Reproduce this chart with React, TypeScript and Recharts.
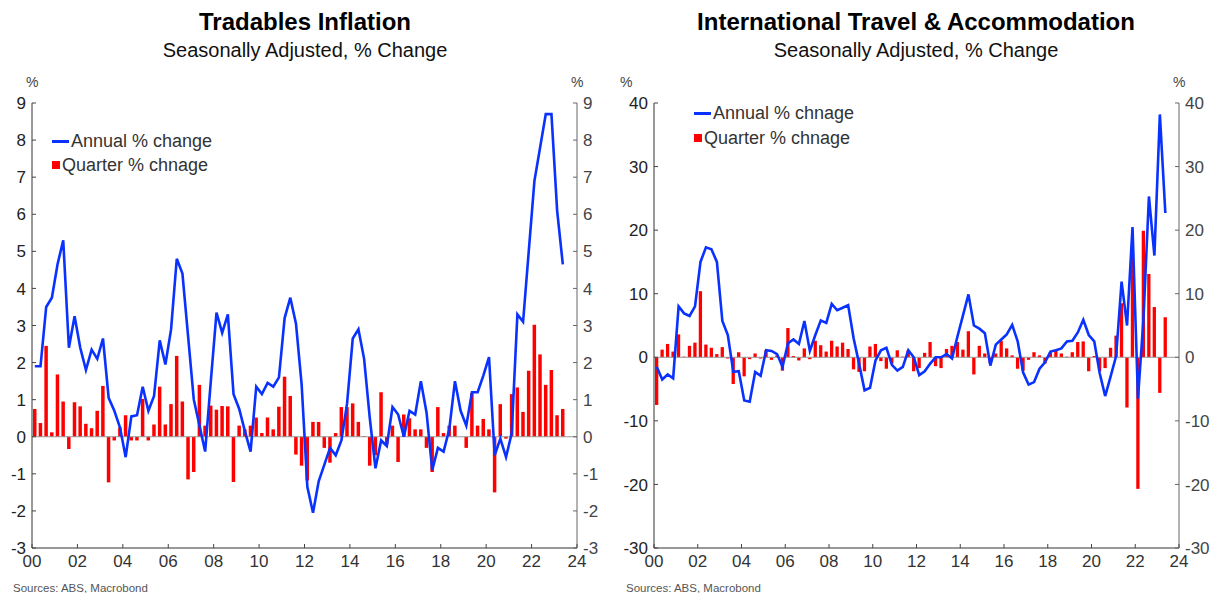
import React from "react";
import { ComposedChart, XAxis, YAxis, Bar, Line, ReferenceLine } from "recharts";

// quarterly, 2000Q1 .. 2023Q2
const quarters: number[] = [];
for (let y = 0; y < 24; y++) {
  for (let q = 0; q < 4; q++) {
    if (y === 23 && q > 1) break;
    quarters.push(y + q * 0.25 + 0.125);
  }
}

const yearTicks = [0, 2, 4, 6, 8, 10, 12, 14, 16, 18, 20, 22, 24];
const tradTicks = [-3, -2, -1, 0, 1, 2, 3, 4, 5, 6, 7, 8, 9];
const travelTicks = [-30, -20, -10, 0, 10, 20, 30, 40];

const tradAnnual = [
  1.9, 1.9, 3.5, 3.75, 4.65, 5.3, 2.4, 3.25, 2.4, 1.8,
  2.35, 2.1, 2.65, 1.05, 0.7, 0.25, -0.55, 0.55, 0.58, 1.35,
  0.7, 1.1, 2.6, 1.95, 2.9, 4.8, 4.4, 2.7, 1.0, 0.3,
  -0.4, 1.5, 3.35, 2.8, 3.3, 1.15, 0.75, 0.15, -0.4, 1.35,
  1.15, 1.45, 1.35, 1.6, 3.2, 3.75, 3.05, 1.4, -1.35, -2.05,
  -1.2, -0.75, -0.3, -0.5, -0.1, 0.9, 2.65, 2.9, 2.1, 0.5,
  -0.85, -0.1, -0.25, 0.8, 0.6, 0.0, 0.7, 0.6, 1.5, 0.65,
  -0.9, -0.3, -0.4, 0.2, 1.5, 0.7, 0.3, 1.2, 1.2, 1.65,
  2.15, -0.5, -0.05, -0.55, 0.1, 3.3, 3.1, 5.0, 6.9, 7.8,
  8.7, 8.7, 6.1, 4.65,
];

const tradQuarter = [
  0.75, 0.37, 2.45, 0.12, 1.68, 0.95, -0.33, 0.93, 0.82, 0.35,
  0.23, 0.7, 1.37, -1.23, -0.1, 0.25, 0.58, -0.1, -0.1, 1.02,
  -0.1, 0.33, 1.35, 0.33, 0.88, 2.18, 0.95, -1.15, -0.95, 1.4,
  0.3, 0.84, 0.73, 0.83, 0.82, -1.22, 0.3, 0.2, 0.3, 0.52,
  0.1, 0.52, 0.2, 0.81, 1.62, 1.1, -0.48, -0.78, -1.18, 0.4,
  0.4, -0.3, -0.7, 0.1, 0.8, 0.8, 0.9, 0.4, 0.02, -0.78,
  -0.5, 1.2, -0.2, 0.3, -0.68, 0.6, 0.5, 0.2, 0.2, -0.3,
  -0.95, 0.8, 0.1, 0.3, 0.3, 0.0, -0.3, 1.18, 0.3, 0.48,
  0.2, -1.5, 0.88, -0.05, 1.15, 1.33, 0.67, 1.78, 3.02, 2.22,
  1.4, 1.8, 0.58, 0.75,
];

const travelAnnual = [
  -1.5, -3.5, -2.7, -3.3, 8.0, 6.9, 6.5, 8.0, 15.0, 17.3,
  17.0, 15.0, 5.7, 3.5, -2.3, -2.2, -6.8, -7.0, -2.3, -2.9,
  1.1, 1.0, 0.5, -1.5, 2.2, 2.8, 2.1, 5.7, 1.0, 3.5,
  5.8, 5.4, 8.4, 7.4, 7.8, 8.2, 3.0, -1.0, -5.2, -4.8,
  -0.5, 1.1, 1.5, -1.2, -2.1, -1.5, 1.1, 0.0, -2.8, -2.2,
  -1.0, 0.0, 0.0, 0.5, -0.2, 3.3, 6.6, 9.9, 5.0, 4.5,
  3.8, -1.3, 2.0, 2.8, 3.6, 5.1, 2.5, -2.4, -4.3, -3.9,
  -1.8, -0.8, 0.9, 1.1, 1.4, 2.5, 2.6, 3.9, 5.9, 3.5,
  2.5, -2.5, -6.1, -3.0, 0.2, 11.9, 5.0, 20.5, -6.5, 6.0,
  25.3, 16.0, 38.2, 22.7,
];

const travelQuarter = [
  -7.5, 1.2, 2.1, 0.9, 3.6, 0.1, 1.8, 2.3, 10.4, 2.0,
  1.5, 0.5, 1.6, -0.2, -4.2, 0.8, -3.0, -0.3, 0.6, -0.2,
  1.1, -0.4, 0.3, -2.1, 4.6, 0.2, -0.5, 1.4, -0.3, 2.6,
  1.9, 0.9, 2.6, 1.7, 2.3, 1.3, -1.9, -2.3, -2.2, 1.7,
  2.1, -0.6, -1.8, -1.0, 1.1, 0.1, 1.1, -2.2, -1.7, 0.7,
  2.4, -1.4, -1.7, 1.3, 1.8, 2.4, 1.2, 4.1, -2.7, 1.8,
  0.6, -0.9, 0.6, 2.6, 1.4, 0.3, -1.8, -2.1, -0.4, 0.8,
  0.3, -1.0, 0.8, 1.2, 0.6, 0.1, 0.8, 2.4, 2.5, -2.2,
  0.2, -2.2, -1.7, 1.5, 3.4, 8.5, -7.9, 16.8, -20.7, 19.9,
  13.1, 7.9, -5.6, 6.3,
];

const BLUE = "#0a32ff";
const RED = "#ff0000";
const FONT = "'Liberation Sans', Arial, sans-serif";

const tradData = quarters.map((t, i) => ({ t, annual: tradAnnual[i], quarter: tradQuarter[i] }));
const travelData = quarters.map((t, i) => ({ t, annual: travelAnnual[i], quarter: travelQuarter[i] }));

const fmtYear = (v: number) => String(v).padStart(2, "0");

// inward tick marks, drawn with the label
const LeftTick = (props: any) => {
  const { x, y, payload } = props;
  const ax = x + 6;
  return (
    <g>
      <line x1={ax} x2={ax + 4} y1={y} y2={y} stroke="#444" />
      <text x={x} y={y} dy="0.36em" textAnchor="end" fontSize={17} fill="#222" fontFamily={FONT}>
        {payload.value}
      </text>
    </g>
  );
};

const RightTick = (props: any) => {
  const { x, y, payload } = props;
  const ax = x - 6;
  return (
    <g>
      <line x1={ax - 4} x2={ax} y1={y} y2={y} stroke="#666" />
      <text x={x} y={y} dy="0.36em" textAnchor="start" fontSize={17} fill="#444" fontFamily={FONT}>
        {payload.value}
      </text>
    </g>
  );
};

const BottomTick = (props: any) => {
  const { x, y, payload } = props;
  const ay = y - 4;
  return (
    <g>
      <line x1={x} x2={x} y1={ay - 4} y2={ay} stroke="#444" />
      <text x={x} y={ay + 19} textAnchor="middle" fontSize={17} fill="#333" fontFamily={FONT}>
        {fmtYear(payload.value)}
      </text>
    </g>
  );
};

type PanelProps = {
  data: { t: number; annual: number; quarter: number }[];
  ticks: number[];
  domain: [number, number];
  width: number;
  leftW: number;
  rightW: number;
  barSize: number;
};

const Panel = ({ data, ticks, domain, width, leftW, rightW, barSize }: PanelProps) => (
  <ComposedChart
    width={width}
    height={580}
    data={data}
    margin={{ top: 103, right: 0, bottom: 0, left: 0 }}
  >
    <XAxis
      dataKey="t"
      type="number"
      domain={[0, 24]}
      ticks={yearTicks}
      interval={0}
      allowDataOverflow
      height={32}
      tickSize={0}
      tickMargin={4}
      stroke="#333"
      tick={<BottomTick />}
    />
    <YAxis
      yAxisId="l"
      domain={domain}
      ticks={ticks}
      interval={0}
      allowDataOverflow
      width={leftW}
      tickSize={0}
      tickMargin={6}
      stroke="#333"
      tick={<LeftTick />}
    />
    <YAxis
      yAxisId="r"
      orientation="right"
      domain={domain}
      ticks={ticks}
      interval={0}
      allowDataOverflow
      width={rightW}
      tickSize={0}
      tickMargin={6}
      stroke="#666"
      tick={<RightTick />}
    />
    <ReferenceLine yAxisId="l" y={0} stroke="#999" strokeWidth={1} />
    <Bar yAxisId="l" dataKey="quarter" fill={RED} barSize={barSize} isAnimationActive={false} />
    <Line
      yAxisId="l"
      dataKey="annual"
      stroke={BLUE}
      strokeWidth={2.6}
      dot={false}
      type="linear"
      isAnimationActive={false}
    />
  </ComposedChart>
);

const abs = (left: number, top: number, extra: React.CSSProperties = {}): React.CSSProperties => ({
  position: "absolute",
  left,
  top,
  fontFamily: FONT,
  whiteSpace: "nowrap",
  ...extra,
});

const Title = ({ cx, title }: { cx: number; title: string }) => (
  <>
    <div style={abs(cx - 300, 8, { width: 600, textAlign: "center", fontSize: 24, lineHeight: "28px", fontWeight: "bold", color: "#000" })}>
      {title}
    </div>
    <div style={abs(cx - 300, 38, { width: 600, textAlign: "center", fontSize: 20, lineHeight: "24px", color: "#111" })}>
      Seasonally Adjusted, % Change
    </div>
  </>
);

const LegendBox = ({ x, y, annualText, quarterText, gap }: any) => (
  <>
    <div style={abs(x, y - 1.5, { width: 17, height: 3, background: BLUE })} />
    <div style={abs(x + 19, y - 11, { fontSize: 18, color: "#333", lineHeight: "22px" })}>{annualText}</div>
    <div style={abs(x, y + gap - 4, { width: 8, height: 8, background: RED })} />
    <div style={abs(x + 10, y + gap - 11, { fontSize: 18, color: "#333", lineHeight: "22px" })}>{quarterText}</div>
  </>
);

export default function App() {
  return (
    <div style={{ position: "absolute", left: 0, top: 0, width: 1218, height: 593, background: "#fff", overflow: "hidden" }}>
      <Title cx={305} title="Tradables Inflation" />
      <Title cx={916} title="International Travel & Accommodation" />

      <div style={abs(26, 74, { fontSize: 14, color: "#444" })}>%</div>
      <div style={abs(571, 74, { fontSize: 14, color: "#444" })}>%</div>
      <div style={abs(620, 74, { fontSize: 14, color: "#444" })}>%</div>
      <div style={abs(1173, 74, { fontSize: 14, color: "#444" })}>%</div>

      <div style={abs(0, 0)}>
        <Panel data={tradData} ticks={tradTicks} domain={[-3, 9]} width={620} leftW={32} rightW={43} barSize={3.5} />
      </div>
      <div style={abs(610, 0)}>
        <Panel data={travelData} ticks={travelTicks} domain={[-30, 40]} width={608} leftW={44} rightW={39} barSize={3.3} />
      </div>

      <LegendBox x={52} y={141} annualText="Annual % change" quarterText="Quarter % chnage" gap={24} />
      <LegendBox x={694} y={113} annualText="Annual % chnage" quarterText="Quarter % chnage" gap={25} />

      <div style={abs(13, 582, { fontSize: 11.5, color: "#555" })}>Sources: ABS, Macrobond</div>
      <div style={abs(626, 582, { fontSize: 11.5, color: "#555" })}>Sources: ABS, Macrobond</div>
    </div>
  );
}
